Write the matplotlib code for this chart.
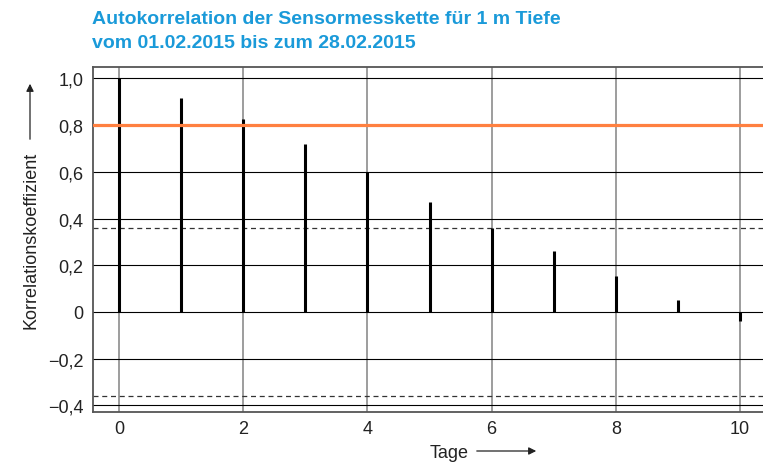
import matplotlib
matplotlib.use("Agg")
import matplotlib.pyplot as plt

# ── Data ──────────────────────────────────────────────────────────────────────
lags       = [0, 1, 2, 3, 4, 5, 6, 7, 8, 9, 10]
acf_values = [1.0, 0.915, 0.825, 0.72, 0.60, 0.47, 0.36, 0.26, 0.155, 0.052, -0.038]
conf_bound = 0.36
threshold  = 0.8
y_ticks    = [-0.4, -0.2, 0, 0.2, 0.4, 0.6, 0.8, 1.0]
y_labels   = ["\u22120,4", "\u22120,2", "0", "0,2", "0,4", "0,6", "0,8", "1,0"]
x_ticks    = [0, 2, 4, 6, 8, 10]

_BLUE   = "#1a9ad9"
_ORANGE = "#ff8040"
_GRID_V = "#8c8c8c"
_SPINE  = "#555555"
_TEXT   = "#222222"

plt.rcParams["font.family"] = ["Liberation Sans", "DejaVu Sans"]

fig = plt.figure(figsize=(7.63, 4.64), dpi=100)
ax = fig.add_axes([93 / 763, 51 / 464, 1 - 93 / 763, 345.5 / 464])

ax.set_xlim(-0.419, 10.37)
ax.set_ylim(-0.428, 1.0505)

# grid: vertical gray, horizontal black
for x in x_ticks:
    ax.axvline(x, color=_GRID_V, linewidth=1.2, zorder=1)
for y in y_ticks:
    ax.axhline(y, color="black", linewidth=0.8, zorder=1)

# confidence bounds
ax.axhline(conf_bound, color="#333333", linewidth=0.9, linestyle=(0, (4, 3)), zorder=2)
ax.axhline(-conf_bound, color="#333333", linewidth=0.9, linestyle=(0, (4, 3)), zorder=2)

# stems
ax.vlines(lags, 0, acf_values, color="black", linewidth=2.2, zorder=3)

# threshold
ax.axhline(threshold, color=_ORANGE, linewidth=2.3, zorder=4)

ax.set_xticks(x_ticks)
ax.set_xticklabels([str(x) for x in x_ticks])
ax.set_yticks(y_ticks)
ax.set_yticklabels(y_labels)
ax.tick_params(axis="y", length=0, labelsize=13, pad=7, colors=_TEXT)
ax.tick_params(axis="x", length=0, labelsize=13, pad=6, colors=_TEXT)

for side in ["top", "left", "bottom"]:
    ax.spines[side].set_color(_SPINE)
    ax.spines[side].set_linewidth(1.3)
ax.spines["right"].set_visible(False)

# axis labels with arrows
fig.text(31 / 763, 1 - 240 / 464, "Korrelationskoeffizient", rotation=90,
         ha="center", va="center", fontsize=13, color=_TEXT)
fig.add_artist(matplotlib.patches.FancyArrowPatch(
    (30 / 763, 1 - 143 / 464), (30 / 763, 1 - 82 / 464), transform=fig.transFigure,
    arrowstyle="-|>", mutation_scale=11, color=_TEXT, linewidth=0.9))

fig.text(449 / 763, 1 - 454 / 464, "Tage", ha="center", va="center",
         fontsize=13, color=_TEXT)
fig.add_artist(matplotlib.patches.FancyArrowPatch(
    (474 / 763, 1 - 452 / 464), (539 / 763, 1 - 452 / 464), transform=fig.transFigure,
    arrowstyle="-|>", mutation_scale=11, color=_TEXT, linewidth=0.9))

# title
fig.text(92 / 763, 1 - 20 / 464, "Autokorrelation der Sensormesskette für 1 m Tiefe",
         ha="left", va="center", fontsize=14, fontweight="bold", color=_BLUE)
fig.text(92 / 763, 1 - 43 / 464, "vom 01.02.2015 bis zum 28.02.2015",
         ha="left", va="center", fontsize=14, fontweight="bold", color=_BLUE)

fig.savefig("out.png", dpi=100)
